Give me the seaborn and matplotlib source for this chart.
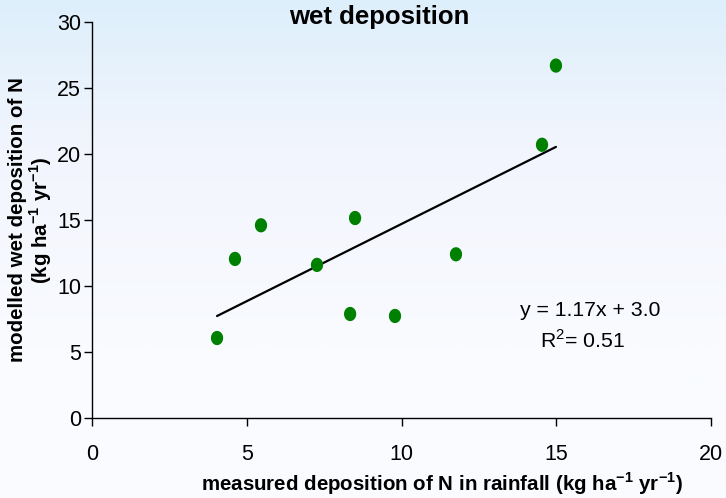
import numpy as np
import pandas as pd
import matplotlib
matplotlib.use("Agg")
import matplotlib.pyplot as plt
import seaborn as sns
from matplotlib.path import Path

# ---- data ----
measured = [4.04, 4.62, 5.46, 7.27, 8.50, 8.34, 9.79, 11.76, 14.54, 14.99]
modelled = [6.06, 12.05, 14.6, 11.6, 15.15, 7.88, 7.73, 12.4, 20.7, 26.7]
slope = 1.17
intercept = 3.0
r2 = 0.51
title = "wet deposition"
xlabel = "measured deposition of N in rainfall (kg ha$^{\\mathregular{-1}}$ yr$^{\\mathregular{-1}}$)"
ylabel = "modelled wet deposition of N\n(kg ha$^{\\mathregular{-1}}$ yr$^{\\mathregular{-1}}$)"
xticks = [0, 5, 10, 15, 20]
yticks = [0, 5, 10, 15, 20, 25, 30]

df = pd.DataFrame({"measured": measured, "modelled": modelled})
xfit = np.array([min(measured), max(measured)])
fit = pd.DataFrame({"x": xfit, "y": slope * xfit + intercept})

sns.set_theme(style="ticks")
plt.rcParams["font.family"] = ["Liberation Sans", "DejaVu Sans"]
plt.rcParams["mathtext.fontset"] = "custom"
plt.rcParams["mathtext.rm"] = "Liberation Sans"
plt.rcParams["mathtext.bf"] = "Liberation Sans:bold"
plt.rcParams["text.color"] = "black"

fig = plt.figure(figsize=(7.26, 4.98), dpi=100)

# background gradient
bg = fig.add_axes([0, 0, 1, 1], zorder=-10)
top = np.array([221, 239, 251]) / 255
mid = np.array([242, 245, 253]) / 255
bot = np.array([249, 251, 255]) / 255
n = 256
t = np.linspace(0, 1, n)[:, None]
grad = np.where(t < 0.3, top + (mid - top) * (t / 0.3),
                mid + (bot - mid) * np.clip((t - 0.3) / 0.4, 0, 1))
bg.imshow(grad[:, None, :].repeat(2, axis=1), aspect="auto", extent=[0, 1, 0, 1])
bg.axis("off")

ax = fig.add_axes([92 / 726, 80 / 498, (711 - 92) / 726, (418 - 22) / 498])
ax.set_facecolor("none")

# ellipse marker (slightly taller than wide)
th = np.linspace(0, 2 * np.pi, 60)
ell = Path(np.column_stack([0.86 * np.cos(th), np.sin(th)]), closed=True)

sns.scatterplot(data=df, x="measured", y="modelled", ax=ax, marker=ell,
                s=105, color="#008000", edgecolor="none", zorder=3)
sns.lineplot(data=fit, x="x", y="y", ax=ax, color="black", linewidth=1.6, zorder=2)

ax.set_xlim(0, 20)
ax.set_ylim(0, 30)
ax.set_xticks(xticks)
ax.set_yticks(yticks)
ax.set_xlabel("")
ax.set_ylabel("")
sns.despine(ax=ax)
for s in ["left", "bottom"]:
    ax.spines[s].set_color("black")
    ax.spines[s].set_linewidth(1.0)
ax.tick_params(axis="x", direction="out", length=6, width=1, pad=13,
               labelsize=15.5, colors="black")
ax.tick_params(axis="y", direction="out", length=6, width=1, pad=2,
               labelsize=15.5, colors="black")

fig.text(379 / 726, 1 - 17 / 498, title, ha="center", va="center",
         fontsize=18.5, fontweight="bold")
fig.text(442 / 726, 1 - 484 / 498, xlabel, ha="center", va="center",
         fontsize=14.8, fontweight="bold")
fig.text(31 / 726, 1 - 220 / 498, ylabel, ha="center", va="center",
         rotation=90, fontsize=14.8, fontweight="bold", linespacing=1.05)

fig.text(590 / 726, 1 - 310 / 498, f"y = {slope:.2f}x + {intercept:.1f}",
         fontsize=15.3, ha="center", va="center")
fig.text(583 / 726, 1 - 340 / 498, f"R$^{{\\mathregular{{2}}}}$= {r2:.2f}",
         fontsize=15.3, ha="center", va="center")

fig.savefig("out.png", dpi=100)
